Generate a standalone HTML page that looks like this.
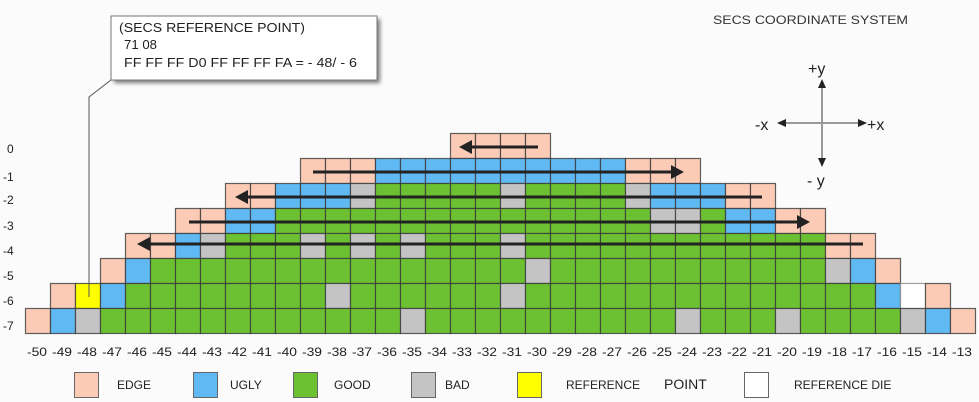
<!DOCTYPE html>
<html><head><meta charset="utf-8"><style>
html,body{margin:0;padding:0;background:#fbfbfb;}
svg{display:block;font-family:"Liberation Sans",sans-serif;}
</style></head><body>
<svg id="s" width="979" height="402" viewBox="0 0 979 402" xmlns="http://www.w3.org/2000/svg">
<defs><filter id="sh" x="-10%" y="-10%" width="130%" height="150%"><feGaussianBlur stdDeviation="2"/></filter></defs>
<rect width="979" height="402" fill="#fbfbfb"/>
<g id="cells"></g>
<g stroke="#222" stroke-width="3" fill="#222">
<line x1="538" y1="147" x2="470" y2="147"/><polygon points="459,147 472,140 472,154" stroke="none"/>
<line x1="313" y1="172" x2="672" y2="172"/><polygon points="684,172 671,165 671,179" stroke="none"/>
<line x1="762" y1="197" x2="246" y2="197"/><polygon points="235,197 248,190 248,204" stroke="none"/>
<line x1="189" y1="222" x2="798" y2="222"/><polygon points="810,222 797,215 797,229" stroke="none"/>
<line x1="863" y1="244" x2="148" y2="244"/><polygon points="137,244 150,237 150,251" stroke="none"/>
</g>
<polyline points="111,80 89,97 89,297" fill="none" stroke="#555" stroke-width="1"/>
<rect x="114" y="19" width="266" height="64" fill="#777" filter="url(#sh)"/>
<rect x="111" y="16" width="266" height="64" fill="#fff" stroke="#777" stroke-width="1"/>
<g font-size="13" fill="#222">
<text x="119" y="32" textLength="186" lengthAdjust="spacingAndGlyphs">(SECS REFERENCE POINT)</text>
<text x="124" y="49" textLength="33" lengthAdjust="spacingAndGlyphs">71 08</text>
<text x="124" y="67" textLength="233" lengthAdjust="spacingAndGlyphs">FF FF FF D0  FF FF FF FA = - 48/ - 6</text>
</g>
<text x="713" y="24" font-size="12" fill="#333" textLength="195" lengthAdjust="spacingAndGlyphs">SECS COORDINATE SYSTEM</text>
<g stroke="#999" stroke-width="2">
<line x1="822" y1="86" x2="822" y2="160"/>
<line x1="784" y1="123" x2="860" y2="123"/>
</g>
<g fill="#222">
<polygon points="822,79 818,88 826,88"/>
<polygon points="822,167 818,158 826,158"/>
<polygon points="777,123 786,119 786,127"/>
<polygon points="867,123 858,119 858,127"/>
</g>
<g font-size="16" fill="#222">
<text x="808" y="74">+y</text>
<text x="755" y="130">-x</text>
<text x="867" y="130">+x</text>
<text x="807" y="186">- y</text>
</g>
<g font-size="12" fill="#222">
<text x="7" y="153">0</text>
<text x="3" y="181">-1</text>
<text x="3" y="204">-2</text>
<text x="3" y="230">-3</text>
<text x="3" y="255">-4</text>
<text x="3" y="280">-5</text>
<text x="3" y="305">-6</text>
<text x="3" y="330">-7</text>
</g>
<g font-size="12" fill="#222" text-anchor="middle">
<text x="37" y="356" textLength="20" lengthAdjust="spacingAndGlyphs">-50</text>
<text x="62" y="356" textLength="20" lengthAdjust="spacingAndGlyphs">-49</text>
<text x="87" y="356" textLength="20" lengthAdjust="spacingAndGlyphs">-48</text>
<text x="112" y="356" textLength="20" lengthAdjust="spacingAndGlyphs">-47</text>
<text x="137" y="356" textLength="20" lengthAdjust="spacingAndGlyphs">-46</text>
<text x="162" y="356" textLength="20" lengthAdjust="spacingAndGlyphs">-45</text>
<text x="187" y="356" textLength="20" lengthAdjust="spacingAndGlyphs">-44</text>
<text x="212" y="356" textLength="20" lengthAdjust="spacingAndGlyphs">-43</text>
<text x="237" y="356" textLength="20" lengthAdjust="spacingAndGlyphs">-42</text>
<text x="262" y="356" textLength="20" lengthAdjust="spacingAndGlyphs">-41</text>
<text x="287" y="356" textLength="20" lengthAdjust="spacingAndGlyphs">-40</text>
<text x="312" y="356" textLength="20" lengthAdjust="spacingAndGlyphs">-39</text>
<text x="337" y="356" textLength="20" lengthAdjust="spacingAndGlyphs">-38</text>
<text x="362" y="356" textLength="20" lengthAdjust="spacingAndGlyphs">-37</text>
<text x="387" y="356" textLength="20" lengthAdjust="spacingAndGlyphs">-36</text>
<text x="412" y="356" textLength="20" lengthAdjust="spacingAndGlyphs">-35</text>
<text x="437" y="356" textLength="20" lengthAdjust="spacingAndGlyphs">-34</text>
<text x="462" y="356" textLength="20" lengthAdjust="spacingAndGlyphs">-33</text>
<text x="487" y="356" textLength="20" lengthAdjust="spacingAndGlyphs">-32</text>
<text x="512" y="356" textLength="20" lengthAdjust="spacingAndGlyphs">-31</text>
<text x="537" y="356" textLength="20" lengthAdjust="spacingAndGlyphs">-30</text>
<text x="562" y="356" textLength="20" lengthAdjust="spacingAndGlyphs">-29</text>
<text x="587" y="356" textLength="20" lengthAdjust="spacingAndGlyphs">-28</text>
<text x="612" y="356" textLength="20" lengthAdjust="spacingAndGlyphs">-27</text>
<text x="637" y="356" textLength="20" lengthAdjust="spacingAndGlyphs">-26</text>
<text x="662" y="356" textLength="20" lengthAdjust="spacingAndGlyphs">-25</text>
<text x="687" y="356" textLength="20" lengthAdjust="spacingAndGlyphs">-24</text>
<text x="712" y="356" textLength="20" lengthAdjust="spacingAndGlyphs">-23</text>
<text x="737" y="356" textLength="20" lengthAdjust="spacingAndGlyphs">-22</text>
<text x="762" y="356" textLength="20" lengthAdjust="spacingAndGlyphs">-21</text>
<text x="787" y="356" textLength="20" lengthAdjust="spacingAndGlyphs">-20</text>
<text x="812" y="356" textLength="20" lengthAdjust="spacingAndGlyphs">-19</text>
<text x="837" y="356" textLength="20" lengthAdjust="spacingAndGlyphs">-18</text>
<text x="862" y="356" textLength="20" lengthAdjust="spacingAndGlyphs">-17</text>
<text x="887" y="356" textLength="20" lengthAdjust="spacingAndGlyphs">-16</text>
<text x="912" y="356" textLength="20" lengthAdjust="spacingAndGlyphs">-15</text>
<text x="937" y="356" textLength="20" lengthAdjust="spacingAndGlyphs">-14</text>
<text x="962" y="356" textLength="20" lengthAdjust="spacingAndGlyphs">-13</text>
</g>
<g stroke="#666" stroke-width="1">
<rect x="74.5" y="372.5" width="24" height="25" fill="#fccbb5"/>
<rect x="193.5" y="372.5" width="24" height="25" fill="#60b9f2"/>
<rect x="293.5" y="372.5" width="24" height="25" fill="#6cc132"/>
<rect x="411.5" y="372.5" width="24" height="25" fill="#c4c4c4"/>
<rect x="517.5" y="372.5" width="24" height="25" fill="#ffff00"/>
<rect x="744.5" y="372.5" width="24" height="25" fill="#ffffff"/>
</g>
<g font-size="12" fill="#222">
<text x="117" y="389">EDGE</text>
<text x="230" y="389">UGLY</text>
<text x="334" y="389">GOOD</text>
<text x="445" y="389">BAD</text>
<text x="566" y="389">REFERENCE</text>
<text x="664" y="389" font-size="14">POINT</text>
<text x="794" y="389">REFERENCE DIE</text>
</g>
</svg>
<script>
var rows=[
".................EEEE.................",
"...........EEEUUUUUUUUUUEEE...........",
"........EEUUUBGGGGGBGGGGBUUUEE........",
"......EEUUGGGGGGGGGGGGGGGBBGUUEE......",
"....EEUBGGGBGBGBGGGBGGGGGGGGGGGGEE....",
"...EUGGGGGGGGGGGGGGGBGGGGGGGGGGGBUE...",
".EYUGGGGGGGGBGGGGGGBGGGGGGGGGGGGGGUWE.",
"EUBGGGGGGGGGGGGBGGGGGGGGGGBGGGBGGGGBUE"];
var col={E:"#fccbb5",U:"#60b9f2",G:"#6cc132",B:"#c4c4c4",Y:"#ffff00",W:"#ffffff"};
var g=document.getElementById("cells"),ns="http://www.w3.org/2000/svg";
for(var r=0;r<rows.length;r++)for(var i=0;i<38;i++){var c=rows[r][i];if(c===".")continue;
var e=document.createElementNS(ns,"rect");e.setAttribute("x",25.5+25*i);e.setAttribute("y",133.5+25*r);
e.setAttribute("width",25);e.setAttribute("height",25);e.setAttribute("fill",col[c]);
e.setAttribute("stroke",c==="W"?"#888":"#3a3a3a");e.setAttribute("stroke-opacity","0.8");e.setAttribute("stroke-width",1.2);g.appendChild(e);}
</script>
</body></html>
